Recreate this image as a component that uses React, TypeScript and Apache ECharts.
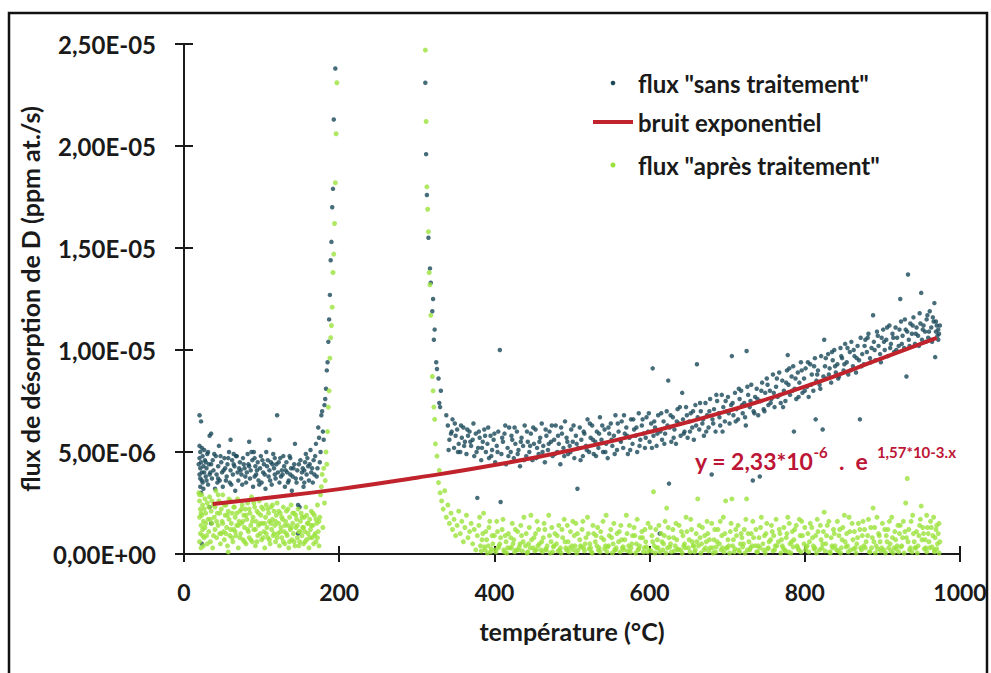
import React, { useEffect, useRef } from "react";
import * as echarts from "echarts";

// y values are given in units of 1e-6 ppm at./s ; x in °C
const sansTraitement: [number, number][] = [
  [20,6.8],[22,6.5],[20,5.3],[21,5.0],[20,4.7],[22,4.5],[21,4.2],[20,3.9],[23,3.6],[21,3.3],[22,3.0],[24,4.8],[25,4.3],[23,4.0],[24,3.5],[26,5.1],[27,4.6],[28,3.8],[29,4.2],[30,4.9],[31,3.4],[32,4.4],[33,5.8],[35,5.9],[34,4.0],[36,3.7],[37,4.6],[38,4.1],[40,3.2],[41,4.8],[42,3.9],[44,4.3],[45,5.3],[46,3.6],[48,4.5],[49,4.0],[50,3.3],[52,4.7],[53,4.2],[55,3.8],[56,4.4],[58,5.0],[59,3.5],[60,4.1],[62,4.6],[63,3.9],[65,4.3],[66,3.1],[68,4.8],[69,4.0],[70,3.6],[72,4.5],[73,4.1],[75,3.4],[76,4.7],[78,4.2],[79,3.8],
  [82,4.9],[83,4.4],[85,3.7],[86,4.1],[88,4.6],[89,3.3],[90,5.0],[92,4.3],[93,3.9],[95,4.5],[96,3.6],[98,4.2],[99,4.8],[100,3.5],[102,4.0],[103,4.4],[105,3.2],[106,5.0],[108,4.6],[109,3.8],[110,4.1],[112,4.5],[113,3.4],[115,4.9],[116,4.2],[118,3.7],[119,4.4],[120,6.8],[121,4.0],[123,3.5],[124,4.7],[126,4.1],[127,3.9],[129,4.3],[130,3.3],[132,4.5],[133,4.0],[135,3.6],[136,4.8],[138,4.2],[139,3.1],[140,3.8],[142,4.4],[143,5.4],[145,3.5],[146,4.1],[147,2.4],[149,2.3],[147,1.0],[150,4.6],[151,3.7],[153,4.2],[154,3.3],[156,4.5],[157,4.9],[158,3.9],[160,4.3],[161,3.6],[163,5.1],[164,4.0],[166,3.5],[167,4.6],[169,4.8],[170,5.4],[171,3.8],[172,4.2],[173,6.2],[174,5.7],[175,4.5],[176,5.0],[177,6.8],[178,7.0],[179,6.0],[180,5.6],[181,7.3],[182,7.6],[183,8.1],[184,9.0],[185,9.4],[186,10.4],[187,11.5],[188,12.7],[189,14.4],[190,15.3],[191,17.0],[192,17.9],[193,21.3],[195,23.8],
  [35,1.5],[23,0.5],[33,2.3],[60,5.6],[110,5.6],[84,5.5],[28,4.5],[44,3.7],[64,4.9],[91,3.8],[117,4.7],[137,3.9],[155,4.1],
  [311,23.1],[312,19.6],[313,17.6],[315,15.5],[317,14.0],[318,13.3],[321,12.5],[320,11.9],[323,11.0],[322,10.5],[325,9.4],[326,9.07],[328,8.6],[331,8.0],[329,7.4],[330,7.2],[338,6.8],
  [340,6.3],[342,5.6],[344,5.9],[346,6.6],[348,5.2],[350,5.8],[352,6.1],[354,5.4],[356,5.0],[358,5.7],[360,6.2],[362,5.5],[364,4.9],[366,5.8],[368,6.0],[370,5.3],[372,5.6],[374,4.8],[376,5.9],[378,2.75],[379,5.2],[381,5.7],[383,4.6],[385,5.5],[387,6.1],[389,5.0],[391,5.4],[393,4.7],[395,5.8],[397,5.1],[399,5.6],[401,4.5],[403,5.3],[405,6.0],[407,10.0],[408,2.55],[409,4.9],[411,5.5],[413,5.9],[415,4.4],[417,5.2],[419,6.2],[421,5.0],[423,5.6],[425,4.7],[427,5.4],[429,6.0],[431,5.1],[433,4.3],[435,5.7],[437,5.3],[439,6.3],[441,4.8],[443,5.5],[445,5.0],[447,5.9],[449,4.6],[451,5.4],[453,6.1],[455,5.2],[457,4.9],[459,5.7],[461,6.4],[463,5.3],[465,4.5],[467,5.8],[469,5.1],[471,6.0],[473,5.5],[475,4.8],[477,5.6],[479,6.3],[481,5.0],[483,5.4],[485,4.4],[487,5.9],[489,5.2],[491,6.5],[493,5.7],[495,4.9],[497,5.3],[499,6.1],
  [501,5.5],[503,4.7],[505,5.8],[507,3.2],[508,5.2],[510,6.2],[512,5.6],[514,4.8],[516,5.9],[518,5.3],[520,6.6],[522,5.0],[524,5.7],[526,6.3],[528,4.9],[530,5.5],[532,6.0],[534,5.2],[536,6.7],[538,5.6],[540,5.0],[542,6.1],[544,5.4],[546,4.7],[548,5.9],[550,6.4],[552,5.3],[554,5.8],[556,6.8],[558,5.1],[560,6.0],[562,5.6],[564,6.5],[566,5.2],[568,5.9],[570,6.2],[572,4.9],[574,5.7],[576,6.6],[578,5.4],[580,6.1],[582,5.8],[584,5.0],[586,6.9],[588,5.6],[590,6.3],[592,5.9],[594,5.2],[596,6.7],[598,6.0],[600,5.5],[602,6.4],[604,9.1],[605,5.8],[607,6.2],[609,5.3],[611,6.8],[613,1.0],[614,6.0],[616,5.6],[618,6.5],[620,5.9],[622,7.0],[624,8.5],[625,3.45],[626,6.2],[628,5.5],[630,6.7],[632,6.1],[634,5.4],[636,7.1],[638,6.4],[640,5.8],[642,7.9],[643,6.6],[645,6.0],[647,7.2],[649,5.7],[651,6.5],[653,6.9],[655,6.2],[657,5.6],[659,7.3],[661,9.3],[662,6.7],[664,6.1],[666,7.0],[668,6.4],[670,5.8],[672,7.4],[674,6.8],[676,6.2],[678,7.6],[680,3.9],[681,6.6],[683,7.1],[685,6.0],[687,7.5],[689,6.9],[691,6.3],[693,7.8],[695,7.2],[697,6.5],[699,7.0],
  [701,7.7],[703,6.4],[705,7.3],[706,9.7],[708,6.8],[710,7.9],[712,7.1],[714,6.6],[716,7.6],[718,8.0],[720,6.9],[722,7.4],[724,6.3],[725,9.95],[727,7.8],[729,7.2],[731,8.3],[733,3.6],[734,7.0],[736,7.7],[738,8.1],[740,6.8],[742,3.8],[743,7.5],[745,8.4],[747,7.1],[749,7.9],[751,8.6],[753,7.3],[755,8.0],[757,7.6],[759,8.8],[761,7.2],[763,8.2],[765,7.7],[767,8.9],[769,7.4],[771,8.5],[773,8.0],[775,7.5],[777,9.0],[778,9.75],[779,8.3],[781,7.8],[783,8.7],[785,9.2],[786,6.0],[787,8.1],[789,7.6],[791,8.9],[793,8.4],[795,9.4],[797,7.9],[799,8.6],[801,9.1],[803,8.2],[805,7.7],[807,9.3],[809,8.8],[811,8.0],[813,9.6],[814,6.6],[815,8.5],[817,9.0],[819,8.3],[821,9.7],[823,6.1],[824,8.7],[825,10.5],[826,9.2],[828,8.6],[830,9.8],[832,9.1],[834,8.4],[836,9.5],[838,10.0],[840,8.9],[842,9.3],[844,8.7],[846,10.1],[848,9.6],[850,9.0],[852,10.3],[854,9.4],[856,8.8],[858,9.9],[860,10.4],[862,9.2],[864,9.7],[866,8.9],[868,10.2],[870,9.5],[871,6.6],[872,10.6],[874,9.8],[876,9.3],[878,10.5],[880,9.9],[882,10.8],[884,9.6],[886,10.1],[888,11.7],[889,10.4],[891,9.5],[893,10.9],[895,10.2],[897,9.8],[899,10.6],
  [901,11.0],[903,10.0],[905,10.5],[907,9.7],[909,11.2],[911,10.3],[913,10.8],[915,9.9],[917,11.1],[919,10.6],[921,10.2],[923,12.5],[924,11.4],[926,10.7],[928,10.1],[930,11.0],[931,8.7],[933,13.7],[934,10.5],[936,11.3],[938,10.8],[940,11.6],[942,10.3],[944,11.1],[946,10.7],[948,11.8],[950,12.8],[951,10.5],[953,11.2],[955,10.9],[957,11.5],[959,10.6],[961,11.9],[963,11.1],[964,10.4],[966,11.4],[967,12.3],[968,9.65],[969,10.9],[970,11.2],[971,10.7],[972,11.0],[973,10.8]
];

// additional points of the dense "sans traitement" cloud
const sansTraitementDense: [number, number][] = [
  [19,4.4],[21,3.7],[23,5.2],[25,3.2],[26,4.0],[29,3.6],[31,5.0],[33,3.9],[35,4.4],[39,4.9],[43,3.5],[47,4.8],[51,4.1],[54,3.6],[57,4.7],[61,3.4],[64,4.4],[67,4.8],[71,4.2],[74,3.9],[77,4.4],[80,3.5],[81,4.0],[84,4.3],[87,5.0],[91,4.7],[94,4.1],[97,3.4],[101,4.6],[104,3.9],[107,4.3],[111,3.6],[114,4.4],[117,3.9],[122,4.5],[125,3.8],[128,4.8],[131,4.1],[134,3.5],[137,4.7],[141,4.2],[144,3.7],[148,4.4],[152,4.0],[155,3.5],[159,4.7],[162,4.4],[165,4.2],[168,3.9],
  [341,5.1],[345,6.0],[349,6.4],[353,5.0],[357,6.3],[361,5.3],[365,6.1],[369,5.5],[373,6.4],[377,5.0],[380,6.0],[384,5.2],[388,5.8],[392,6.2],[396,4.8],[400,5.9],[404,5.0],[410,5.7],[414,6.3],[418,4.8],[422,5.8],[426,6.2],[430,4.9],[434,5.5],[438,4.6],[442,6.0],[446,5.3],[450,6.2],[454,4.7],[458,5.5],[462,5.0],[466,6.1],[470,5.4],[474,6.3],[478,4.9],[482,5.8],[486,6.2],[490,4.8],[494,5.5],[498,5.0],
  [502,6.3],[506,5.4],[511,4.6],[515,6.0],[519,5.1],[523,6.4],[527,5.6],[531,4.8],[535,5.9],[539,6.3],[543,5.0],[547,6.2],[551,5.6],[555,4.9],[559,6.4],[563,5.5],[567,6.8],[571,5.8],[575,5.1],[579,6.6],[583,6.2],[587,5.3],[591,6.6],[595,5.7],[599,6.9],[603,5.2],[606,6.5],[610,5.9],[615,6.9],[619,5.4],[623,6.3],[627,6.8],[631,5.7],[635,6.5],[639,7.2],[644,5.9],[648,6.8],[652,6.0],[656,7.0],[660,6.3],[665,7.4],[669,6.6],[673,6.0],[677,7.0],[682,6.4],[686,7.8],[690,6.7],[694,6.0],[698,7.5],
  [702,6.9],[707,7.4],[711,6.5],[715,8.1],[719,7.3],[723,6.7],[726,8.2],[730,7.5],[735,6.9],[739,7.6],[744,8.0],[748,7.0],[752,8.3],[756,7.4],[760,7.9],[764,8.6],[768,7.8],[772,7.2],[776,8.4],[780,9.1],[784,8.0],[788,8.6],[792,7.7],[796,9.0],[800,8.0],[804,9.4],[808,8.3],[812,9.2],[816,8.8],[820,8.1],[827,9.6],[831,8.8],[835,9.9],[839,9.2],[843,8.6],[847,9.7],[851,9.3],[855,10.1],[859,9.0],[863,10.0],[867,9.6],[873,9.2],[877,10.2],[881,10.6],[885,9.4],[890,10.0],[894,10.7],[898,9.4],
  [902,10.4],[906,11.1],[910,10.1],[914,10.6],[918,10.0],[922,11.0],[925,10.3],[929,11.5],[932,10.9],[935,10.2],[939,11.2],[943,10.8],[947,10.2],[949,11.3],[952,11.0],[956,10.4],[958,11.7],[960,10.9],[962,10.5],[965,11.6],[969,11.4],[972,10.5],[974,11.2]
];

const apresTraitement: [number, number][] = [
  [19,3.0],[20,2.6],[21,2.2],[20,1.8],[22,1.4],[21,1.0],[20,0.6],[22,0.3],[23,2.9],[24,2.4],[23,1.9],[25,1.6],[24,1.2],[26,0.8],[25,0.4],[27,2.7],[28,2.0],[27,1.3],[29,0.9],[30,2.5],[31,1.7],[32,1.1],[33,2.8],[34,0.6],[35,2.1],[36,1.5],[37,0.3],[38,2.4],[39,1.8],[40,1.2],[41,3.1],[42,0.8],[43,2.0],[44,1.4],[45,2.6],[46,1.0],[47,0.5],[48,2.2],[49,1.6],[50,2.9],[51,1.1],[52,0.7],[53,1.9],[54,2.4],[55,1.3],[56,0.4],[57,0.1],[57,2.1],[58,1.7],[59,0.9],[60,2.6],[61,1.5],[62,2.0],[63,0.6],[64,1.2],[65,2.3],[66,1.8],[67,0.9],[68,1.4],[69,2.7],[70,0.3],[71,1.6],[72,2.1],[73,1.0],[74,1.5],[75,2.4],[76,0.7],[77,1.9],[78,1.3],[79,2.2],[80,0.5],
  [81,1.7],[82,2.5],[83,1.1],[84,0.8],[85,2.0],[86,1.4],[87,2.8],[88,0.6],[89,1.8],[90,1.2],[91,2.3],[92,0.4],[93,1.6],[94,2.1],[95,0.9],[96,1.4],[97,2.6],[98,1.0],[99,1.9],[100,0.7],[101,1.5],[102,2.2],[103,1.1],[104,0.3],[105,1.8],[106,2.4],[107,1.3],[108,0.8],[109,2.0],[110,1.6],[111,0.5],[112,2.3],[113,1.2],[114,1.7],[115,0.9],[116,2.1],[117,1.4],[118,0.6],[119,1.9],[120,2.5],[121,1.0],[122,1.5],[123,0.4],[124,2.0],[125,1.3],[126,0.8],[127,1.7],[128,2.3],[129,1.1],[130,0.5],[131,1.6],[132,2.1],[133,0.9],[134,1.4],[135,0.3],[136,1.8],[137,1.2],[138,2.4],[139,0.7],[140,1.5],[141,1.0],[142,2.0],[143,0.4],[144,1.3],[145,1.7],[146,0.8],[147,2.2],[148,1.1],[149,0.6],[150,1.6],[151,2.0],[152,0.9],[153,1.3],[154,0.5],[155,1.8],[156,1.1],[157,2.3],[158,0.7],[159,1.5],[160,1.0],[161,0.3],[162,1.7],[163,1.2],[164,2.1],[165,0.8],[166,1.4],[167,0.5],[168,1.9],[169,1.0],[170,0.6],[171,1.5],[172,2.4],[173,1.1],[174,0.4],[175,1.8],[176,2.9],[177,3.3],[178,3.9],[179,1.3],[180,4.2],[181,2.5],[182,3.6],[183,5.0],[184,4.4],[185,6.0],[186,7.2],[187,8.0],[188,9.6],[189,10.6],[190,11.2],[191,12.1],[192,13.8],[193,14.7],[194,16.2],[195,18.2],[196,20.6],[197,23.1],
  [311,24.7],[312,21.2],[313,18.0],[314,16.9],[315,15.8],[316,13.8],[317,13.2],[318,11.7],[320,8.7],[321,8.0],[322,7.2],[323,6.6],[324,5.4],[326,4.8],[329,4.1],[328,3.5],[330,3.0],[332,2.6],[334,2.2],[336,3.1],[338,1.8],[340,2.4],[342,1.5],[344,2.0],[346,1.2],[348,1.7],[350,0.9],[352,1.4],[354,2.1],[356,1.0],[358,1.6],[360,0.6],[362,1.3],[364,1.9],[366,0.8],[368,1.1],[370,1.5],[372,0.5],[374,1.2],[376,0.2],[378,0.9],[380,1.4],
  [382,0.4],[385,1.0],[388,0.2],[390,0.7],[393,1.3],[395,0.1],[398,0.5],[400,0.9],[403,1.6],[405,0.3],[408,0.8],[410,1.2],[413,0.1],[415,0.6],[418,1.0],[420,0.3],[423,1.5],[425,0.7],[428,0.2],[430,1.1],[433,0.5],[435,0.9],[438,1.8],[440,0.4],[443,0.1],[445,1.3],[448,0.7],[450,0.3],[453,1.0],[455,1.6],[458,0.5],[460,0.2],[463,0.8],[465,1.2],[468,0.4],[470,1.9],[473,0.6],[475,0.1],[478,1.0],[480,0.5],[483,1.4],[485,0.3],[488,0.8],[490,1.7],[493,0.2],[495,0.6],[498,1.1],[500,0.4],[503,0.9],[505,1.5],[508,0.2],[510,0.7],[513,1.2],[515,0.3],[518,0.8],[520,1.8],[523,0.5],[525,0.1],[528,1.0],[530,0.6],[533,1.3],[535,0.3],[538,0.8],[540,1.6],[543,0.4],[545,0.1],[548,0.9],[550,1.2],[553,0.5],[555,0.2],[558,1.0],[560,0.6],[563,1.4],[565,0.3],[568,0.7],[570,1.9],[573,0.4],[575,0.1],[578,0.9],[580,1.3],[583,0.5],[585,0.2],[588,0.8],[590,1.1],[593,0.3],[595,0.6],[598,1.5],[600,0.2],
  [603,0.9],[605,3.05],[606,0.4],[608,1.2],[610,0.7],[613,0.1],[615,1.0],[618,0.5],[620,1.6],[622,2.25],[623,0.3],[625,0.8],[628,0.1],[630,1.2],[633,0.4],[635,0.7],[638,1.4],[640,0.2],[643,0.9],[645,0.5],[648,1.1],[650,0.3],[653,1.7],[655,0.6],[658,0.1],[660,1.0],[662,2.7],[663,0.4],[665,0.8],[668,1.3],[670,0.2],[673,0.6],[675,1.0],[678,0.3],[680,1.5],[683,0.7],[685,0.1],[688,1.2],[690,0.5],[693,0.9],[695,1.8],[698,2.6],[699,0.3],[701,0.7],[704,1.1],[706,2.7],[707,0.4],[709,0.1],[712,0.9],[714,1.4],[717,0.5],[719,0.8],[722,1.2],[725,2.7],[726,0.2],[728,0.6],[731,1.0],[733,1.6],[736,0.4],[738,0.1],[741,0.8],[743,1.3],[746,0.5],[748,0.9],[751,1.5],[753,0.3],[756,0.7],[758,1.1],[761,0.2],[763,1.7],[766,0.6],[768,1.0],[771,0.4],[773,1.3],[776,0.8],[778,1.8],[779,0.1],[781,0.5],[784,1.1],[786,0.7],[789,1.4],[791,0.3],[794,0.9],[796,1.6],[799,0.5],
  [801,0.2],[804,1.0],[806,0.6],[809,1.3],[811,0.4],[814,0.9],[816,1.7],[819,0.2],[821,0.7],[824,1.1],[825,2.05],[827,0.5],[829,1.4],[832,0.1],[834,0.8],[837,1.2],[839,0.4],[842,1.6],[844,0.9],[847,0.3],[849,1.3],[852,0.6],[854,1.0],[857,1.8],[859,0.2],[862,0.7],[864,1.1],[867,0.5],[869,1.5],[872,0.3],[874,0.9],[877,1.2],[879,0.6],[882,1.7],[884,0.1],[887,0.8],[888,2.25],[890,1.3],[892,0.4],[895,1.0],[897,0.6],[900,1.5],[902,0.2],[905,0.9],[907,1.2],[910,0.5],[912,1.8],[915,0.3],[917,0.7],[920,1.4],[922,1.0],[925,0.4],[927,1.6],[930,2.5],[931,0.8],[932,3.7],[934,1.2],[936,0.3],[939,1.9],[941,0.6],[944,1.1],[946,0.4],[948,1.4],[950,2.35],[951,0.7],[953,1.0],[956,0.3],[958,1.3],[960,0.6],[962,1.6],[965,0.9],[967,0.2],[969,1.2],[971,0.5],[973,1.5]
];

// additional points of the dense "après traitement" cloud
const apresTraitementDense: [number, number][] = [
  [20,2.9],[22,2.0],[24,0.9],[26,2.2],[28,1.5],[30,0.5],[32,2.3],[34,1.7],[36,2.6],[38,0.9],[40,2.3],[42,1.6],[44,2.9],[46,2.0],[48,1.0],[50,1.5],[52,2.4],[54,1.0],[56,1.9],[58,2.7],[60,1.2],[62,0.8],[64,2.3],[66,1.1],[68,2.0],[70,1.4],[72,0.8],[74,2.2],[76,1.6],[78,0.6],[80,1.9],[82,1.2],[84,2.2],[86,0.7],[88,1.6],[90,2.5],[92,1.2],[94,0.6],[96,2.0],[98,1.5],[100,2.3],[102,0.8],[104,1.5],[106,1.0],[108,2.2],[110,0.7],[112,1.5],[114,2.4],[116,1.0],[118,1.6],[120,0.8],[122,2.1],[124,1.1],[126,1.8],[128,0.6],[130,1.4],[132,1.0],[134,2.2],[136,0.6],[138,1.3],[140,2.0],[142,0.6],[144,1.9],[146,1.4],[148,0.4],[150,1.1],[152,1.8],[154,1.3],[156,0.6],[158,1.9],[160,1.5],[162,0.8],[164,1.4],[166,2.0],[168,0.9],[170,1.7],[172,0.8],[174,1.6],
  [381,1.8],[384,0.7],[386,2.0],[389,1.1],[392,0.4],[394,1.6],[397,0.9],[401,0.2],[404,1.1],[407,0.5],[411,1.7],[414,0.9],[417,0.3],[421,0.8],[424,0.5],[427,1.2],[431,0.2],[434,1.4],[437,0.6],[441,1.0],[444,0.5],[447,1.9],[451,0.8],[454,0.2],[457,1.2],[461,0.6],[464,1.5],[467,0.2],[471,0.9],[474,1.3],[477,0.4],[481,0.9],[484,0.2],[487,1.2],[491,0.6],[494,1.4],[497,0.3],
  [501,1.6],[504,0.4],[507,1.0],[511,0.4],[514,1.6],[517,0.5],[521,1.0],[524,0.3],[527,1.4],[531,0.9],[534,0.2],[537,1.1],[541,0.7],[544,1.9],[547,0.4],[551,0.8],[554,1.5],[557,0.3],[561,1.1],[564,0.7],[567,0.2],[571,1.0],[574,1.4],[577,0.5],[581,0.9],[584,1.7],[587,0.4],[591,0.8],[594,1.2],[597,0.1],
  [601,1.3],[604,0.6],[609,0.3],[612,1.4],[616,0.6],[619,0.9],[624,1.3],[627,0.5],[631,0.8],[634,1.5],[637,0.2],[641,1.1],[644,0.4],[647,1.8],[651,0.7],[654,1.2],[657,0.4],[661,0.6],[664,1.4],[667,0.5],[671,0.9],[674,1.6],[677,0.7],[681,0.3],[684,1.2],[687,0.6],[691,1.6],[694,0.3],[697,1.0],
  [702,0.4],[705,1.5],[708,0.7],[711,1.2],[715,0.2],[718,1.0],[721,0.5],[724,1.7],[727,1.0],[730,0.3],[734,0.8],[737,1.2],[740,0.4],[744,1.8],[747,0.2],[750,1.0],[754,0.6],[757,1.4],[760,0.9],[764,0.4],[767,1.2],[770,0.7],[774,0.2],[777,1.0],[780,1.5],[783,0.6],[787,1.2],[790,0.4],[793,1.7],[797,0.9],
  [800,1.3],[803,0.4],[807,1.5],[810,0.8],[813,0.3],[817,1.1],[820,1.4],[823,0.5],[828,0.9],[831,1.6],[835,0.4],[838,1.0],[841,0.2],[845,1.2],[848,0.7],[851,1.9],[855,0.4],[858,1.1],[861,1.5],[865,0.3],[868,0.8],[871,1.2],[875,1.6],[878,0.3],[881,0.9],[885,1.3],[889,0.6],[893,1.8],[896,0.9],[899,0.3],
  [903,1.2],[906,0.6],[909,1.6],[913,0.8],[916,1.1],[919,0.4],[923,1.4],[926,0.8],[929,1.1],[933,0.6],[937,1.6],[940,1.0],[943,0.3],[947,0.9],[949,1.7],[952,1.3],[955,0.7],[957,1.9],[959,1.0],[961,0.3],[963,1.3],[966,1.8],[968,0.8],[970,1.4],[972,1.0],[974,0.6]
];

// points lying close to the baseline in the "après traitement" cloud
const apresTraitementBase: [number, number][] = [
  [383,0.15],[387,0.35],[391,0.05],[396,0.25],[402,0.1],[406,0.4],[412,0.2],[416,0.05],[422,0.3],[426,0.1],[432,0.35],[436,0.15],[442,0.05],[446,0.3],[452,0.15],[456,0.4],[462,0.1],[466,0.25],[472,0.05],[476,0.35],[482,0.15],[486,0.05],[492,0.3],[496,0.1],
  [502,0.2],[506,0.05],[512,0.35],[516,0.15],[522,0.25],[526,0.05],[532,0.4],[536,0.1],[542,0.25],[546,0.35],[552,0.05],[556,0.2],[562,0.1],[566,0.35],[572,0.15],[576,0.3],[582,0.05],[586,0.25],[592,0.1],[596,0.35],
  [602,0.15],[607,0.05],[611,0.3],[617,0.2],[621,0.05],[626,0.35],[632,0.15],[636,0.25],[642,0.05],[646,0.3],[652,0.1],[656,0.4],[659,0.2],[666,0.05],[672,0.3],[676,0.15],[682,0.05],[686,0.35],[692,0.2],[696,0.1],
  [700,0.3],[703,0.05],[710,0.25],[716,0.1],[720,0.35],[723,0.05],[729,0.2],[732,0.4],[739,0.1],[742,0.3],[749,0.05],[752,0.25],[759,0.15],[762,0.4],[769,0.05],[772,0.3],[775,0.15],[782,0.05],[785,0.35],[792,0.2],[795,0.1],
  [802,0.35],[805,0.1],[812,0.25],[815,0.05],[822,0.3],[826,0.15],[833,0.05],[836,0.3],[843,0.15],[846,0.05],[853,0.35],[856,0.1],[863,0.25],[866,0.05],[873,0.2],[876,0.4],[883,0.1],[886,0.3],[891,0.05],[894,0.25],[898,0.15],
  [904,0.05],[908,0.3],[911,0.15],[914,0.05],[918,0.25],[921,0.1],[924,0.35],[928,0.05],[935,0.2],[938,0.1],[942,0.3],[945,0.05],[954,0.25],[957,0.1],[964,0.35],[967,0.1],[970,0.25],[973,0.05]
];

// exponential noise curve
const bruitExponentiel: [number, number][] = [
  [37,2.45],[100,2.72],[200,3.18],[300,3.74],[400,4.36],[500,5.1],[600,5.98],[700,7.0],[800,8.2],[900,9.6],[970,10.6]
];

const seriesNames = ['flux "sans traitement"', "bruit exponentiel", 'flux "après traitement"'];
const xTicks = { min: 0, max: 1000, interval: 200 };
const yTicks = { min: 0, max: 2.5e-5, interval: 5e-6 };
const UNIT = 1e-6;

const TEAL = "#1a4859";
const GREEN = "#9be23c";
const RED = "#c0232c";
const EQ = "#bd1535";
const INK = "#1a1a1a";
const FONT = "Lato, 'Open Sans', sans-serif";

const fmtSci = (v: number) => {
  if (Math.abs(v) < 1e-12) return "0,00E+00";
  const [m, e] = v.toExponential(2).split("e");
  const n = parseInt(e, 10);
  return m.replace(".", ",") + "E" + (n < 0 ? "-" : "+") + String(Math.abs(n)).padStart(2, "0");
};

const scale = (arr: [number, number][]) => arr.map(([x, y]) => [x, y * UNIT]);

export default function App() {
  const ref = useRef<HTMLDivElement>(null);
  useEffect(() => {
    if (!ref.current) return;
    const chart = echarts.init(ref.current, undefined, { renderer: "svg" });
    const axisCommon = {
      axisLine: { show: true, lineStyle: { color: INK, width: 2 } },
      splitLine: { show: false },
    };
    const legendFont = `bold 24px ${FONT}`;
    chart.setOption({
      animation: false,
      backgroundColor: "#ffffff",
      grid: { left: 184, right: 31, top: 44, bottom: 119, containLabel: false },
      xAxis: [
        {
          type: "value", ...xTicks, ...axisCommon,
          name: "température (°C)", nameLocation: "middle", nameGap: 64,
          nameTextStyle: { fontFamily: FONT, fontWeight: "bold", fontSize: 25, color: INK },
          axisTick: { show: true, length: 8, lineStyle: { color: INK, width: 2 } },
          axisLabel: { fontFamily: FONT, fontWeight: "bold", fontSize: 23, color: INK, margin: 26, formatter: (v: number) => String(v) },
        },
        {
          type: "value", ...xTicks, position: "bottom",
          axisLine: { show: false }, splitLine: { show: false }, axisLabel: { show: false },
          axisTick: { show: true, inside: true, length: 8, lineStyle: { color: INK, width: 2 } },
        },
      ],
      yAxis: [
        {
          type: "value", ...yTicks, ...axisCommon,
          name: "flux de désorption de D (ppm at./s)", nameLocation: "middle", nameGap: 141,
          nameTextStyle: { fontFamily: FONT, fontWeight: "bold", fontSize: 25, color: INK },
          axisTick: { show: true, length: 9, lineStyle: { color: INK, width: 2 } },
          axisLabel: { fontFamily: FONT, fontWeight: "bold", fontSize: 24, color: INK, margin: 28, formatter: fmtSci },
        },
        {
          type: "value", ...yTicks, position: "left",
          axisLine: { show: false }, splitLine: { show: false }, axisLabel: { show: false },
          axisTick: { show: true, inside: true, length: 9, lineStyle: { color: INK, width: 2 } },
        },
      ],
      series: [
        {
          name: seriesNames[0], type: "scatter", xAxisIndex: 0, yAxisIndex: 0,
          data: scale(sansTraitement.concat(sansTraitementDense)), symbol: "circle", symbolSize: 4.5,
          itemStyle: { color: TEAL }, z: 2,
        },
        {
          name: seriesNames[2], type: "scatter", xAxisIndex: 0, yAxisIndex: 0,
          data: scale(apresTraitement.concat(apresTraitementDense, apresTraitementBase)), symbol: "circle", symbolSize: 5,
          itemStyle: { color: GREEN }, z: 3,
        },
        {
          name: seriesNames[1], type: "line", xAxisIndex: 0, yAxisIndex: 0,
          data: scale(bruitExponentiel), smooth: true, showSymbol: false, symbol: "none",
          lineStyle: { color: RED, width: 4 }, z: 4,
        },
      ],
      graphic: [
        { type: "rect", shape: { x: 9, y: 13, width: 978, height: 700 }, style: { fill: "none", stroke: "#111", lineWidth: 2.5 }, silent: true },
        { type: "circle", shape: { cx: 613, cy: 83, r: 2.3 }, style: { fill: TEAL } },
        { type: "text", x: 638, y: 83, style: { text: seriesNames[0], font: legendFont, fill: INK, verticalAlign: "middle", align: "left" } },
        { type: "line", shape: { x1: 593, y1: 122, x2: 633, y2: 122 }, style: { stroke: RED, lineWidth: 4 } },
        { type: "text", x: 638, y: 122, style: { text: seriesNames[1], font: legendFont, fill: INK, verticalAlign: "middle", align: "left" } },
        { type: "circle", shape: { cx: 613, cy: 165, r: 2.5 }, style: { fill: GREEN } },
        { type: "text", x: 638, y: 165, style: { text: seriesNames[2], font: legendFont, fill: INK, verticalAlign: "middle", align: "left" } },
        {
          type: "text", x: 695, y: 458,
          style: {
            text: "{m|y = 2,33*10}{s|-6}{m|  .  e}{t|1,57*10-3.x}",
            verticalAlign: "middle", align: "left",
            rich: {
              m: { fontFamily: FONT, fontWeight: "bold", fontSize: 23, fill: EQ, color: EQ, lineHeight: 28, verticalAlign: "bottom" },
              s: { fontFamily: FONT, fontWeight: "bold", fontSize: 15, fill: EQ, color: EQ, lineHeight: 28, verticalAlign: "top" },
              t: { fontFamily: FONT, fontWeight: "bold", fontSize: 15, fill: EQ, color: EQ, lineHeight: 28, verticalAlign: "top", padding: [0, 0, 0, 9] },
            },
          },
        },
      ],
    });
    return () => chart.dispose();
  }, []);
  return <div ref={ref} style={{ position: "absolute", left: 0, top: 0, width: 991, height: 673 }} />;
}
